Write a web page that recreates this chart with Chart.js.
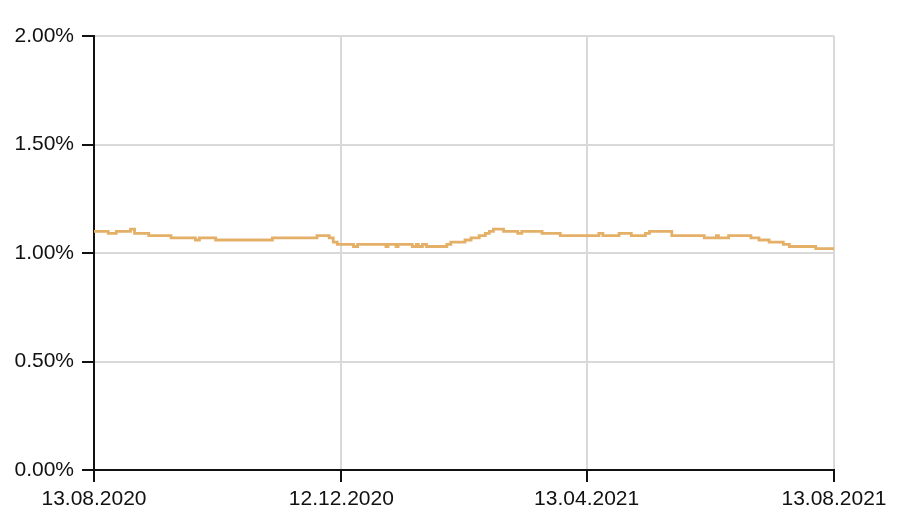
<!DOCTYPE html>
<html>
<head>
<meta charset="utf-8">
<script src="https://cdn.jsdelivr.net/npm/chart.js@4/dist/chart.umd.min.js"></script>
<style>
  html, body { margin: 0; padding: 0; background: #fff; }
  #wrap { width: 900px; height: 528px; }
</style>
</head>
<body>
<div id="wrap"><canvas id="rateChart"></canvas></div>
<script>
// day offsets from 13.08.2020 where the rate changes, and the rate (%) from that day on
const changeDays = [0, 7, 11, 18, 20, 27, 38, 50, 52, 60, 88, 110, 116, 118, 120, 128, 130, 144, 145,
  149, 150, 157, 159, 160, 162, 164, 174, 176, 183, 186, 190, 193, 195, 197, 202, 209, 211, 221,
  230, 249, 251, 259, 265, 272, 274, 285, 301, 307, 308, 313, 324, 328, 333, 340, 343, 356, 365];
const rateValues = [1.10, 1.09, 1.10, 1.11, 1.09, 1.08, 1.07, 1.06, 1.07, 1.06, 1.07, 1.08, 1.07, 1.05, 1.04,
  1.03, 1.04, 1.03, 1.04, 1.03, 1.04, 1.03, 1.04, 1.03, 1.04, 1.03, 1.04, 1.05, 1.06, 1.07, 1.08, 1.09,
  1.10, 1.11, 1.10, 1.09, 1.10, 1.09, 1.08, 1.09, 1.08, 1.09, 1.08, 1.09, 1.10, 1.08, 1.07, 1.08, 1.07,
  1.08, 1.07, 1.06, 1.05, 1.04, 1.03, 1.02, 1.02];

// x axis ticks (days from start) and their labels
const tickDays = [0, 122, 243, 365];
const tickLabels = ["13.08.2020", "12.12.2020", "13.04.2021", "13.08.2021"];

const points = changeDays.map((d, i) => ({ x: d, y: rateValues[i] }));

const tickFont = { family: "'Liberation Sans', Arial, Helvetica, sans-serif", size: 21 };

new Chart(document.getElementById("rateChart").getContext("2d"), {
  type: "line",
  data: {
    datasets: [{
      data: points,
      borderColor: "#e4b068",
      borderWidth: 2.8,
      pointRadius: 0,
      stepped: true,
      fill: false,
    }],
  },
  options: {
    responsive: true,
    maintainAspectRatio: false,
    animation: false,
    layout: { padding: { top: 36, right: 66, left: 0, bottom: 0 } },
    plugins: { legend: { display: false }, tooltip: { enabled: false } },
    scales: {
      x: {
        type: "linear",
        min: 0,
        max: 365,
        afterBuildTicks: (scale) => {
          scale.ticks = tickDays.map((v) => ({ value: v }));
        },
        afterFit: (scale) => { scale.height = 58; },
        ticks: {
          autoSkip: false,
          maxRotation: 0,
          color: "#111",
          font: tickFont,
          padding: 5,
          callback: (v) => tickLabels[tickDays.indexOf(v)],
        },
        grid: { color: "#d9d9d9", lineWidth: 2, tickColor: "#111", tickLength: 12 },
        border: { color: "#111", width: 2 },
      },
      y: {
        min: 0,
        max: 2,
        afterFit: (scale) => { scale.width = 94; },
        ticks: {
          stepSize: 0.5,
          color: "#111",
          font: tickFont,
          padding: 8,
          callback: (v) => v.toFixed(2) + "%",
        },
        grid: { color: "#d9d9d9", lineWidth: 2, tickColor: "#111", tickLength: 12 },
        border: { color: "#111", width: 2 },
      },
    },
  },
});
</script>
</body>
</html>
